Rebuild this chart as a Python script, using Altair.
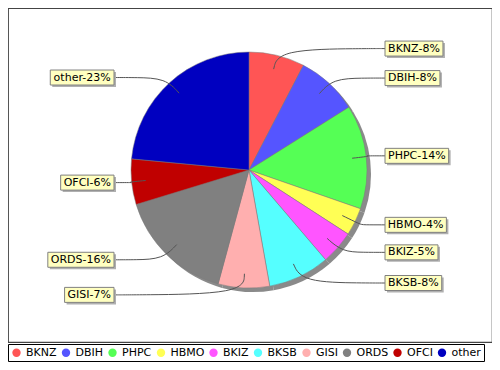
import math
import pandas as pd
import altair as alt

# ---- data ----
cats = ["BKNZ", "DBIH", "PHPC", "HBMO", "BKIZ", "BKSB", "GISI", "ORDS", "OFCI", "other"]
values = [7.6, 8.4, 14.2, 3.8, 4.6, 8.4, 7.0, 16.0, 6.2, 23.4]
colors = ["#FF5555", "#5555FF", "#55FF55", "#FFFF55", "#FF55FF",
          "#55FFFF", "#FFAFAF", "#808080", "#C00000", "#0000C0"]

# ---- layout ----
W, H = 484, 334
cx, cy, R = 241, 162, 118
RL = 125          # radius used to place label rows
FONT = "DejaVu Sans"

# approximate DejaVu Sans advance widths (units per 2048 em)
adv = {'B': 1405, 'K': 1343, 'N': 1532, 'Z': 1405, 'D': 1577, 'I': 604, 'H': 1540,
       'P': 1235, 'C': 1430, 'M': 1767, 'O': 1612, 'S': 1300, 'G': 1587, 'R': 1423,
       'F': 1178, 'o': 1253, 't': 803, 'h': 1298, 'e': 1260, 'r': 842, '-': 739,
       '%': 1946}
def text_w(s, size=11):
    return sum(adv.get(ch, 1303) for ch in s) * size / 2048.0

total = sum(values)
rows, boxes, pts = [], [], []
cum = 0.0
for i, (c, v) in enumerate(zip(cats, values)):
    mid = 2 * math.pi * (cum + v / 2) / total
    cum += v
    label = f"{c}-{round(v / total * 100)}%"
    rows.append({"cat": c, "value": v, "idx": i})
    ly = cy - math.cos(mid) * RL
    w = text_w(label) + 6
    if math.sin(mid) >= 0:
        bx0 = cx + 136
        bx1 = bx0 + w
        ex = bx0
        sx = -1
    else:
        bx1 = cx - 135
        bx0 = bx1 - w
        ex = bx1
        sx = 1
    boxes.append({"cat": c, "label": label, "bx0": bx0, "bx1": bx1,
                  "by0": ly - 7.5, "by1": ly + 7.5, "tx": (bx0 + bx1) / 2, "ty": ly})
    ax, ay = cx + 0.88 * R * math.sin(mid), cy - 0.88 * R * math.cos(mid)
    px, py = cx + (R + 6) * math.sin(mid), cy - (R + 6) * math.cos(mid)
    for k, (xx, yy) in enumerate([(ax, ay), (px, py), (ex + sx * 22, ly), (ex, ly)]):
        pts.append({"cat": c, "pt": k, "px": xx, "py": yy})

df = pd.DataFrame(rows)
bdf = pd.DataFrame(boxes)
ldf = pd.DataFrame(pts)

theta = alt.Theta("value:Q", stack=True)
order = alt.Order("idx:Q")

shadow = alt.Chart(df).mark_arc(radius=R, fill="#8a8a8a").encode(
    theta=theta, order=order, x=alt.value(cx + 4), y=alt.value(cy + 4))

pie = alt.Chart(df).mark_arc(radius=R, stroke="#7a7a7a", strokeWidth=0.5).encode(
    theta=theta, order=order, x=alt.value(cx), y=alt.value(cy),
    color=alt.Color("cat:N", scale=alt.Scale(domain=cats, range=colors), sort=cats,
                    legend=alt.Legend(orient="none", legendX=0, legendY=H + 2,
                                      direction="horizontal", columns=10,
                                      symbolType="circle", symbolSize=70,
                                      symbolStrokeWidth=0, symbolOpacity=1,
                                      labelFont=FONT, labelFontSize=11,
                                      labelColor="black", strokeColor="black",
                                      fillColor="white", padding=3,
                                      columnPadding=3.5, labelOffset=4, title=None)))

lines = alt.Chart(ldf).mark_line(interpolate="basis", color="#555555", strokeWidth=1).encode(
    x=alt.X("px:Q", scale=None, axis=None),
    y=alt.Y("py:Q", scale=None, axis=None),
    detail="cat:N", order="pt:Q")

bshadow = alt.Chart(bdf).mark_rect(fill="#b0b0b0", xOffset=2, x2Offset=2,
                                   yOffset=2, y2Offset=2).encode(
    x=alt.X("bx0:Q", scale=None, axis=None), x2="bx1:Q",
    y=alt.Y("by0:Q", scale=None, axis=None), y2="by1:Q")

box = alt.Chart(bdf).mark_rect(fill="#FFFFC0", stroke="#808080", strokeWidth=1).encode(
    x=alt.X("bx0:Q", scale=None, axis=None), x2="bx1:Q",
    y=alt.Y("by0:Q", scale=None, axis=None), y2="by1:Q")

txt = alt.Chart(bdf).mark_text(font=FONT, fontSize=11, color="black",
                               align="center", baseline="middle").encode(
    x=alt.X("tx:Q", scale=None, axis=None),
    y=alt.Y("ty:Q", scale=None, axis=None),
    text="label:N")

chart = alt.layer(shadow, pie, lines, bshadow, box, txt).properties(
    width=W, height=H, autosize="none",
    padding={"left": 0, "top": 0, "right": 0, "bottom": 20},
    background="white",
).configure_view(stroke="#444444", strokeWidth=1.2)

chart.save("out.html", embed_options={"renderer": "svg", "actions": False})
